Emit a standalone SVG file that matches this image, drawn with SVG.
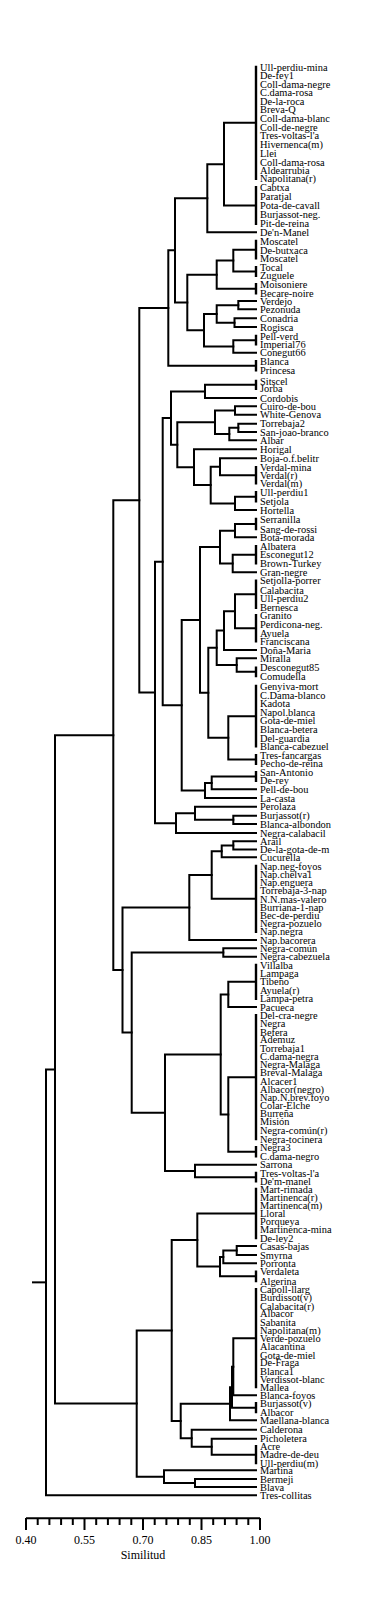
<svg xmlns="http://www.w3.org/2000/svg" width="375" height="1600" viewBox="0 0 375 1600">
<style>
.t{font-family:"Liberation Serif","Times New Roman",serif;font-size:10.4px;fill:#000}
.c path{fill:none;stroke:#000;stroke-width:2;stroke-linecap:square}
.c .b{stroke-width:2.4}
.ax{fill:none;stroke:#000;stroke-width:2}
.al{font-family:"Liberation Serif","Times New Roman",serif;font-size:12px;fill:#000;text-anchor:middle}
</style>
<rect width="375" height="1600" fill="#fff"/>
<g id="connectors" class="c">
<path class="b" d="M256,67V178.7M256,187.3V223.7M256,241V258.3M256,267.3V275.7M256,284.3V293.3M256,336V344.3M256,361.3V370.3M256,381V388.7M256,467.3V483.3M256,492.3V501.3M256,519V529M256,546.3V563.3M256,580.7V607.7M256,615.3V641.3M256,667.7V676M256,686V746.3M256,755.3V763.7M256,772.3V780.7M256,866V931.7M256,965V998.7M256,1015.3V1139M256,1147.3V1156.3M256,1173V1181.3M256,1189V1238M256,1271.7V1281M256,1289.3V1387M256,1403.3V1412M256,1446.3V1463"/>
<path d="M256,122.85H224V205.5H256"/>
<path d="M224,164.2H207.3V232.3H256"/>
<path d="M256,249.65H233.3V271.5H256"/>
<path d="M233.3,260.6H216.7V288.8H256"/>
<path d="M256,301H238.3V309.3H256"/>
<path d="M256,318.3H234.5V327H256"/>
<path d="M238.3,305.15H216.7V322.65H234.5"/>
<path d="M256,340.15H233.3V352.7H256"/>
<path d="M216.7,313.9H204V346.4H233.3"/>
<path d="M216.7,274.7H187.3V330.15H204"/>
<path d="M207.3,198.25H175V302.4H187.3"/>
<path d="M175,250.3H168.3V365.8H256"/>
<path d="M168.3,308.05H139.3V692.4H155"/>
<path d="M256,384.85H205V398H256"/>
<path d="M256,406.3H235V414.7H256"/>
<path d="M256,423.7H238.3V432H256"/>
<path d="M238.3,427.85H229.3V440.3H256"/>
<path d="M235,410.5H215V434.1H229.3"/>
<path d="M256,458.3H220V475.3H256"/>
<path d="M256,496.8H235V510H256"/>
<path d="M220,466.8H210.7V503.4H235"/>
<path d="M256,449.3H194V485.1H210.7"/>
<path d="M215,422.3H177.3V467.2H194"/>
<path d="M205,391.4H171V444.75H177.3"/>
<path d="M256,524H235V537.3H256"/>
<path d="M256,554.8H232.7V572.3H256"/>
<path d="M235,530.65H220V563.55H232.7"/>
<path d="M256,594.2H235V628.3H256"/>
<path d="M235,611.25H224V650H256"/>
<path d="M256,658.3H236.7V671.85H256"/>
<path d="M224,630.6H216.7V665.1H236.7"/>
<path d="M256,716.15H228.3V759.5H256"/>
<path d="M216.7,647.85H208.3V737.8H228.3"/>
<path d="M220,547.1H200V692.8H208.3"/>
<path d="M256,776.5H211.7V789.3H256"/>
<path d="M211.7,782.9H205V798H256"/>
<path d="M200,619.95H181.7V790.45H205"/>
<path d="M171,418.1H162.7V705.2H181.7"/>
<path d="M256,815.7H233.3V824H256"/>
<path d="M256,806.7H195V819.85H233.3"/>
<path d="M195,813.3H176V833H256"/>
<path d="M162.7,561.65H155V823.15H176"/>
<path d="M256,841.3H233.3V849.5H256"/>
<path d="M233.3,845.4H221.7V857.3H256"/>
<path d="M221.7,851.35H211.7V898.85H256"/>
<path d="M211.7,875.1H189.3V940H256"/>
<path d="M256,948.3H223.3V956.7H256"/>
<path d="M256,981.85H228.3V1007H256"/>
<path d="M256,1077.15H228.3V1151.8H256"/>
<path d="M228.3,994.4H220.7V1114.5H228.3"/>
<path d="M256,1164.7H195V1177.15H256"/>
<path d="M220.7,1054.45H165V1170.9H195"/>
<path d="M223.3,952.5H131.7V1112.7H165"/>
<path d="M189.3,907.55H122.5V1032.6H131.7"/>
<path d="M139.3,500.2H113.3V970.1H122.5"/>
<path d="M256,1246H236.7V1255H256"/>
<path d="M236.7,1250.5H223.3V1263.3H256"/>
<path d="M223.3,1256.9H220V1276.35H256"/>
<path d="M256,1213.5H197.3V1266.6H220"/>
<path d="M256,1338.15H233.3V1395.3H256"/>
<path d="M233.3,1366.7H232V1407.65H256"/>
<path d="M232,1387.2H230V1420.3H256"/>
<path d="M256,1438.7H211.7V1454.65H256"/>
<path d="M256,1429.7H191.7V1446.7H211.7"/>
<path d="M230,1403.75H180.7V1438.2H191.7"/>
<path d="M197.3,1240.05H171.7V1421H180.7"/>
<path d="M256,1479H195V1487H256"/>
<path d="M256,1470.3H164V1483H195"/>
<path d="M171.7,1330.5H136.7V1476.65H164"/>
<path d="M113.3,735.15H55V1403.6H136.7"/>
<path d="M55,1069.4H46V1495.3H256"/>
<path d="M33,1282.35H46"/>
</g>
<g id="axis">
<path class="ax" d="M26,1518.3H260M26,1518V1530M37.7,1518V1525M49.4,1518V1525M61.1,1518V1525M72.8,1518V1525M84.5,1518V1530M96.2,1518V1525M107.9,1518V1525M119.6,1518V1525M131.3,1518V1525M143,1518V1530M154.7,1518V1525M166.4,1518V1525M178.1,1518V1525M189.8,1518V1525M201.5,1518V1530M213.2,1518V1525M224.9,1518V1525M236.6,1518V1525M248.3,1518V1525M260,1518V1530"/>
<text class="al" x="26" y="1544">0.40</text>
<text class="al" x="84.5" y="1544">0.55</text>
<text class="al" x="143" y="1544">0.70</text>
<text class="al" x="201.5" y="1544">0.85</text>
<text class="al" x="260" y="1544">1.00</text>
<text class="al" x="143" y="1559">Similitud</text>
</g>
<g id="n1"><text class="t" x="260" y="70.5">Ull-perdiu-mina</text></g>
<g id="n2"><text class="t" x="260" y="78.8">De-fey1</text></g>
<g id="n3"><text class="t" x="260" y="87.5">Coll-dama-negre</text></g>
<g id="n4"><text class="t" x="260" y="95.8">C.dama-rosa</text></g>
<g id="n5"><text class="t" x="260" y="104.8">De-la-roca</text></g>
<g id="n6"><text class="t" x="260" y="113.2">Breva-Q</text></g>
<g id="n7"><text class="t" x="260" y="122.2">Coll-dama-blanc</text></g>
<g id="n8"><text class="t" x="260" y="130.8">Coll-de-negre</text></g>
<g id="n9"><text class="t" x="260" y="139.2">Tres-voltas-l'a</text></g>
<g id="n10"><text class="t" x="260" y="148.2">Hivernenca(m)</text></g>
<g id="n11"><text class="t" x="260" y="156.5">Llei</text></g>
<g id="n12"><text class="t" x="260" y="165.5">Coll-dama-rosa</text></g>
<g id="n13"><text class="t" x="260" y="173.8">Aldearrubia</text></g>
<g id="n14"><text class="t" x="260" y="182.2">Napolitana(r)</text></g>
<g id="n15"><text class="t" x="260" y="190.8">Cabtxa</text></g>
<g id="n16"><text class="t" x="260" y="199.5">Paratjal</text></g>
<g id="n17"><text class="t" x="260" y="208.5">Pota-de-cavall</text></g>
<g id="n18"><text class="t" x="260" y="217.5">Burjassot-neg.</text></g>
<g id="n19"><text class="t" x="260" y="227.2">Pit-de-reina</text></g>
<g id="n20"><text class="t" x="260" y="235.8">De'n-Manel</text></g>
<g id="n21"><text class="t" x="260" y="244.5">Moscatel</text></g>
<g id="n22"><text class="t" x="260" y="253.5">De-butxaca</text></g>
<g id="n23"><text class="t" x="260" y="261.8">Moscatel</text></g>
<g id="n24"><text class="t" x="260" y="270.8">Tocal</text></g>
<g id="n25"><text class="t" x="260" y="279.2">Zuguele</text></g>
<g id="n26"><text class="t" x="260" y="287.8">Moisoniere</text></g>
<g id="n27"><text class="t" x="260" y="296.8">Becare-noire</text></g>
<g id="n28"><text class="t" x="260" y="304.5">Verdejo</text></g>
<g id="n29"><text class="t" x="260" y="312.8">Pezonuda</text></g>
<g id="n30"><text class="t" x="260" y="321.8">Conadria</text></g>
<g id="n31"><text class="t" x="260" y="330.5">Rogisca</text></g>
<g id="n32"><text class="t" x="260" y="339.5">Pell-verd</text></g>
<g id="n33"><text class="t" x="260" y="347.8">Imperial76</text></g>
<g id="n34"><text class="t" x="260" y="356.2">Conegut66</text></g>
<g id="n35"><text class="t" x="260" y="364.8">Blanca</text></g>
<g id="n36"><text class="t" x="260" y="373.8">Princesa</text></g>
<g id="n37"><text class="t" x="260" y="384.5">Sitscel</text></g>
<g id="n38"><text class="t" x="260" y="392.2">Jorba</text></g>
<g id="n39"><text class="t" x="260" y="401.5">Cordobis</text></g>
<g id="n40"><text class="t" x="260" y="409.8">Cuiro-de-bou</text></g>
<g id="n41"><text class="t" x="260" y="418.2">White-Genova</text></g>
<g id="n42"><text class="t" x="260" y="427.2">Torrebaja2</text></g>
<g id="n43"><text class="t" x="260" y="435.5">San-joao-branco</text></g>
<g id="n44"><text class="t" x="260" y="443.8">Albar</text></g>
<g id="n45"><text class="t" x="260" y="452.8">Horigal</text></g>
<g id="n46"><text class="t" x="260" y="461.8">Boja-o.f.belitr</text></g>
<g id="n47"><text class="t" x="260" y="470.8">Verdal-mina</text></g>
<g id="n48"><text class="t" x="260" y="478.5">Verdal(r)</text></g>
<g id="n49"><text class="t" x="260" y="486.8">Verdal(m)</text></g>
<g id="n50"><text class="t" x="260" y="495.8">Ull-perdiu1</text></g>
<g id="n51"><text class="t" x="260" y="504.8">Setjola</text></g>
<g id="n52"><text class="t" x="260" y="513.5">Hortella</text></g>
<g id="n53"><text class="t" x="260" y="522.5">Serranilla</text></g>
<g id="n54"><text class="t" x="260" y="532.5">Sang-de-rossi</text></g>
<g id="n55"><text class="t" x="260" y="540.8">Bota-morada</text></g>
<g id="n56"><text class="t" x="260" y="549.8">Albatera</text></g>
<g id="n57"><text class="t" x="260" y="558.2">Esconegut12</text></g>
<g id="n58"><text class="t" x="260" y="566.8">Brown-Turkey</text></g>
<g id="n59"><text class="t" x="260" y="575.8">Gran-negre</text></g>
<g id="n60"><text class="t" x="260" y="584.2">Setjolla-porrer</text></g>
<g id="n61"><text class="t" x="260" y="593.5">Calabacita</text></g>
<g id="n62"><text class="t" x="260" y="602.2">Ull-perdiu2</text></g>
<g id="n63"><text class="t" x="260" y="611.2">Bernesca</text></g>
<g id="n64"><text class="t" x="260" y="618.8">Granito</text></g>
<g id="n65"><text class="t" x="260" y="627.8">Perdicona-neg.</text></g>
<g id="n66"><text class="t" x="260" y="636.8">Ayuela</text></g>
<g id="n67"><text class="t" x="260" y="644.8">Franciscana</text></g>
<g id="n68"><text class="t" x="260" y="653.5">Doña-Maria</text></g>
<g id="n69"><text class="t" x="260" y="661.8">Miralla</text></g>
<g id="n70"><text class="t" x="260" y="671.2">Desconegut85</text></g>
<g id="n71"><text class="t" x="260" y="679.5">Comudella</text></g>
<g id="n72"><text class="t" x="260" y="689.5">Genyiva-mort</text></g>
<g id="n73"><text class="t" x="260" y="698.5">C.Dama-blanco</text></g>
<g id="n74"><text class="t" x="260" y="706.8">Kadota</text></g>
<g id="n75"><text class="t" x="260" y="715.5">Napol.blanca</text></g>
<g id="n76"><text class="t" x="260" y="724.2">Gota-de-miel</text></g>
<g id="n77"><text class="t" x="260" y="732.5">Blanca-betera</text></g>
<g id="n78"><text class="t" x="260" y="741.5">Del-guardia</text></g>
<g id="n79"><text class="t" x="260" y="749.8">Blanca-cabezuel</text></g>
<g id="n80"><text class="t" x="260" y="758.8">Tres-fancargas</text></g>
<g id="n81"><text class="t" x="260" y="767.2">Pecho-de-reina</text></g>
<g id="n82"><text class="t" x="260" y="775.8">San-Antonio</text></g>
<g id="n83"><text class="t" x="260" y="784.2">De-rey</text></g>
<g id="n84"><text class="t" x="260" y="792.8">Pell-de-bou</text></g>
<g id="n85"><text class="t" x="260" y="801.5">La-casta</text></g>
<g id="n86"><text class="t" x="260" y="810.2">Perolaza</text></g>
<g id="n87"><text class="t" x="260" y="819.2">Burjassot(r)</text></g>
<g id="n88"><text class="t" x="260" y="827.5">Blanca-albondon</text></g>
<g id="n89"><text class="t" x="260" y="836.5">Negra-calabacil</text></g>
<g id="n90"><text class="t" x="260" y="844.8">Arail</text></g>
<g id="n91"><text class="t" x="260" y="853">De-la-gota-de-m</text></g>
<g id="n92"><text class="t" x="260" y="860.8">Cucurella</text></g>
<g id="n93"><text class="t" x="260" y="869.5">Nap.neg-foyos</text></g>
<g id="n94"><text class="t" x="260" y="877.8">Nap.chelva1</text></g>
<g id="n95"><text class="t" x="260" y="886.2">Nap.enguera</text></g>
<g id="n96"><text class="t" x="260" y="894.2">Torrebaja-3-nap</text></g>
<g id="n97"><text class="t" x="260" y="902.5">N.N.mas-valero</text></g>
<g id="n98"><text class="t" x="260" y="910.8">Burriana-1-nap</text></g>
<g id="n99"><text class="t" x="260" y="918.8">Bec-de-perdiu</text></g>
<g id="n100"><text class="t" x="260" y="926.8">Negra-pozuelo</text></g>
<g id="n101"><text class="t" x="260" y="935.2">Nap.negra</text></g>
<g id="n102"><text class="t" x="260" y="943.5">Nap.bacorera</text></g>
<g id="n103"><text class="t" x="260" y="951.8">Negra-común</text></g>
<g id="n104"><text class="t" x="260" y="960.2">Negra-cabezuela</text></g>
<g id="n105"><text class="t" x="260" y="968.5">Villalba</text></g>
<g id="n106"><text class="t" x="260" y="976.8">Lampaga</text></g>
<g id="n107"><text class="t" x="260" y="984.8">Tibeño</text></g>
<g id="n108"><text class="t" x="260" y="993.8">Ayuela(r)</text></g>
<g id="n109"><text class="t" x="260" y="1002.2">Lampa-petra</text></g>
<g id="n110"><text class="t" x="260" y="1010.5">Pacueca</text></g>
<g id="n111"><text class="t" x="260" y="1018.8">Del-cra-negre</text></g>
<g id="n112"><text class="t" x="260" y="1027.2">Negra</text></g>
<g id="n113"><text class="t" x="260" y="1035.5">Befera</text></g>
<g id="n114"><text class="t" x="260" y="1043.2">Ademuz</text></g>
<g id="n115"><text class="t" x="260" y="1051.5">Torrebaja1</text></g>
<g id="n116"><text class="t" x="260" y="1059.8">C.dama-negra</text></g>
<g id="n117"><text class="t" x="260" y="1067.8">Negra-Malaga</text></g>
<g id="n118"><text class="t" x="260" y="1076.2">Breval-Malaga</text></g>
<g id="n119"><text class="t" x="260" y="1084.5">Alcacer1</text></g>
<g id="n120"><text class="t" x="260" y="1092.8">Albacor(negro)</text></g>
<g id="n121"><text class="t" x="260" y="1100.8">Nap.N.brev.foyo</text></g>
<g id="n122"><text class="t" x="260" y="1108.8">Colar-Elche</text></g>
<g id="n123"><text class="t" x="260" y="1117">Burreña</text></g>
<g id="n124"><text class="t" x="260" y="1124.8">Misión</text></g>
<g id="n125"><text class="t" x="260" y="1133.5">Negra-común(r)</text></g>
<g id="n126"><text class="t" x="260" y="1142.5">Negra-tocinera</text></g>
<g id="n127"><text class="t" x="260" y="1150.8">Negra3</text></g>
<g id="n128"><text class="t" x="260" y="1159.8">C.dama-negro</text></g>
<g id="n129"><text class="t" x="260" y="1168.2">Sarrona</text></g>
<g id="n130"><text class="t" x="260" y="1176.5">Tres-voltas-l'a</text></g>
<g id="n131"><text class="t" x="260" y="1184.8">De'm-manel</text></g>
<g id="n132"><text class="t" x="260" y="1192.5">Mart-rimada</text></g>
<g id="n133"><text class="t" x="260" y="1200.8">Martinenca(r)</text></g>
<g id="n134"><text class="t" x="260" y="1208.5">Martinenca(m)</text></g>
<g id="n135"><text class="t" x="260" y="1216.8">Lloral</text></g>
<g id="n136"><text class="t" x="260" y="1225.2">Porqueya</text></g>
<g id="n137"><text class="t" x="260" y="1233.2">Martinenca-mina</text></g>
<g id="n138"><text class="t" x="260" y="1241.5">De-ley2</text></g>
<g id="n139"><text class="t" x="260" y="1249.5">Casas-bajas</text></g>
<g id="n140"><text class="t" x="260" y="1258.5">Smyrna</text></g>
<g id="n141"><text class="t" x="260" y="1266.8">Porronta</text></g>
<g id="n142"><text class="t" x="260" y="1275.2">Verdaleta</text></g>
<g id="n143"><text class="t" x="260" y="1284.5">Algerina</text></g>
<g id="n144"><text class="t" x="260" y="1292.8">Capoll-llarg</text></g>
<g id="n145"><text class="t" x="260" y="1301.2">Burdissot(v)</text></g>
<g id="n146"><text class="t" x="260" y="1309.5">Calabacita(r)</text></g>
<g id="n147"><text class="t" x="260" y="1317.2">Albacor</text></g>
<g id="n148"><text class="t" x="260" y="1325.5">Sabanita</text></g>
<g id="n149"><text class="t" x="260" y="1333.5">Napolitana(m)</text></g>
<g id="n150"><text class="t" x="260" y="1341.8">Verde-pozuelo</text></g>
<g id="n151"><text class="t" x="260" y="1350.2">Alacantina</text></g>
<g id="n152"><text class="t" x="260" y="1358.5">Gota-de-miel</text></g>
<g id="n153"><text class="t" x="260" y="1366.2">De-Fraga</text></g>
<g id="n154"><text class="t" x="260" y="1374.5">Blanca1</text></g>
<g id="n155"><text class="t" x="260" y="1382.5">Verdissot-blanc</text></g>
<g id="n156"><text class="t" x="260" y="1390.5">Mallea</text></g>
<g id="n157"><text class="t" x="260" y="1398.8">Blanca-foyos</text></g>
<g id="n158"><text class="t" x="260" y="1406.8">Burjassot(v)</text></g>
<g id="n159"><text class="t" x="260" y="1415.5">Albacor</text></g>
<g id="n160"><text class="t" x="260" y="1423.8">Maellana-blanca</text></g>
<g id="n161"><text class="t" x="260" y="1433.2">Calderona</text></g>
<g id="n162"><text class="t" x="260" y="1442.2">Picholetera</text></g>
<g id="n163"><text class="t" x="260" y="1449.8">Acre</text></g>
<g id="n164"><text class="t" x="260" y="1458.2">Madre-de-deu</text></g>
<g id="n165"><text class="t" x="260" y="1466.5">Ull-perdiu(m)</text></g>
<g id="n166"><text class="t" x="260" y="1473.8">Martina</text></g>
<g id="n167"><text class="t" x="260" y="1482.5">Bermeji</text></g>
<g id="n168"><text class="t" x="260" y="1490.5">Blava</text></g>
<g id="n169"><text class="t" x="260" y="1498.8">Tres-collitas</text></g>
</svg>
